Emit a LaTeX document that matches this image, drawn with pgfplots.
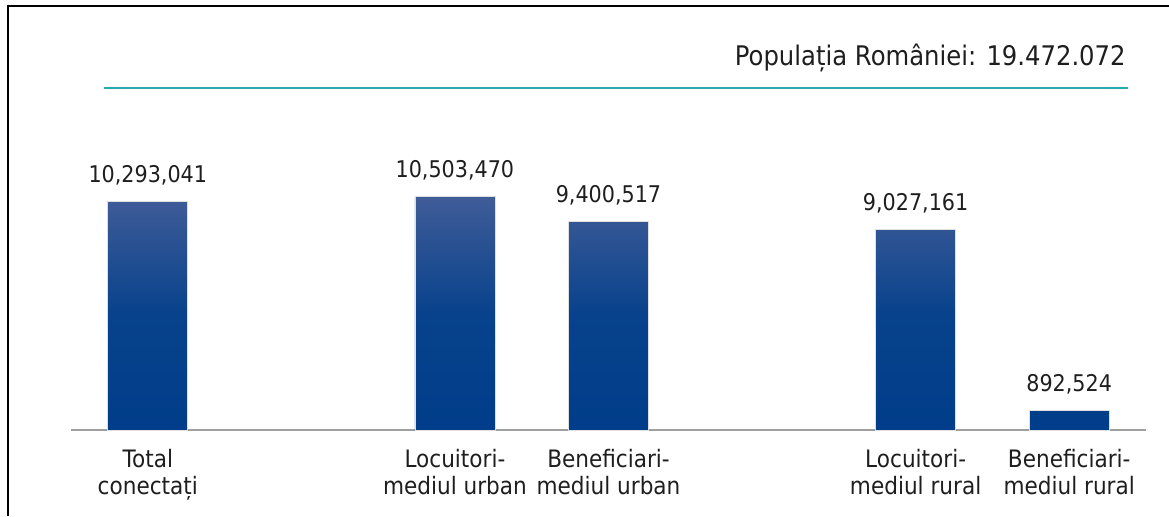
\documentclass[border=0pt]{standalone}
\usepackage{fontspec}
\setmainfont[FakeStretch=0.9]{DejaVu Sans}
\usepackage{pgfplots}
\pgfplotsset{compat=1.18}
\usepackage{pgfplotstable}

\definecolor{barTop}{RGB}{64,92,152}
\definecolor{barMid}{RGB}{8,66,140}
\definecolor{barBot}{RGB}{0,61,138}
\definecolor{lineTeal}{RGB}{42,168,176}
\definecolor{txt}{RGB}{30,30,30}

% x = position of the bar, y = value, label = value as printed
\pgfplotstableread{
x y label
0 10293041 10,293,041
2 10503470 10,503,470
3 9400517 9,400,517
5 9027161 9,027,161
6 892524 892,524
}\datatable

\begin{document}
\begin{tikzpicture}
\begin{axis}[
  at={(35.5pt,43pt)}, anchor=south west,
  scale only axis, width=537.5pt, height=150pt,
  xmin=-0.5, xmax=6.5, ymin=0, ymax=13.5e6,
  axis x line*=bottom, axis y line=none,
  x axis line style={-, draw=gray!75, line width=1pt},
  xtick={0,2,3,5,6},
  xticklabels={{Total\\conectați},{Locuitori-\\mediul urban},{Beneficiari-\\mediul urban},{Locuitori-\\mediul rural},{Beneficiari-\\mediul rural}},
  major tick length=0pt,
  ytick=\empty,
  xticklabel style={align=center, font=\fontsize{12}{13.8}\selectfont, text=txt, yshift=-6pt},
  ybar, bar width=40pt,
  nodes near coords, point meta=explicit symbolic,
  nodes near coords style={font=\fontsize{11.5}{13}\selectfont, text=txt, anchor=south, yshift=4.5pt},
  clip=false,
]
\addplot[draw=gray!25, line width=0.4pt, top color=barTop, bottom color=barBot, middle color=barMid]
  table[x=x, y=y, meta=label] {\datatable};
\end{axis}
\draw[line width=1pt] (4pt,0pt) -- (4pt,255pt) -- (584.5pt,255pt);
\draw[lineTeal, line width=1.3pt] (52pt,214pt) -- (564pt,214pt);
\node[anchor=base east, font=\fontsize{13.5}{15}\selectfont, text=txt, inner sep=0pt]
  at (563pt,225.5pt) {Populația României: 19.472.072};
\pgfresetboundingbox
\path (0pt,0pt) rectangle (584.5pt,258pt);
\end{tikzpicture}
\end{document}
